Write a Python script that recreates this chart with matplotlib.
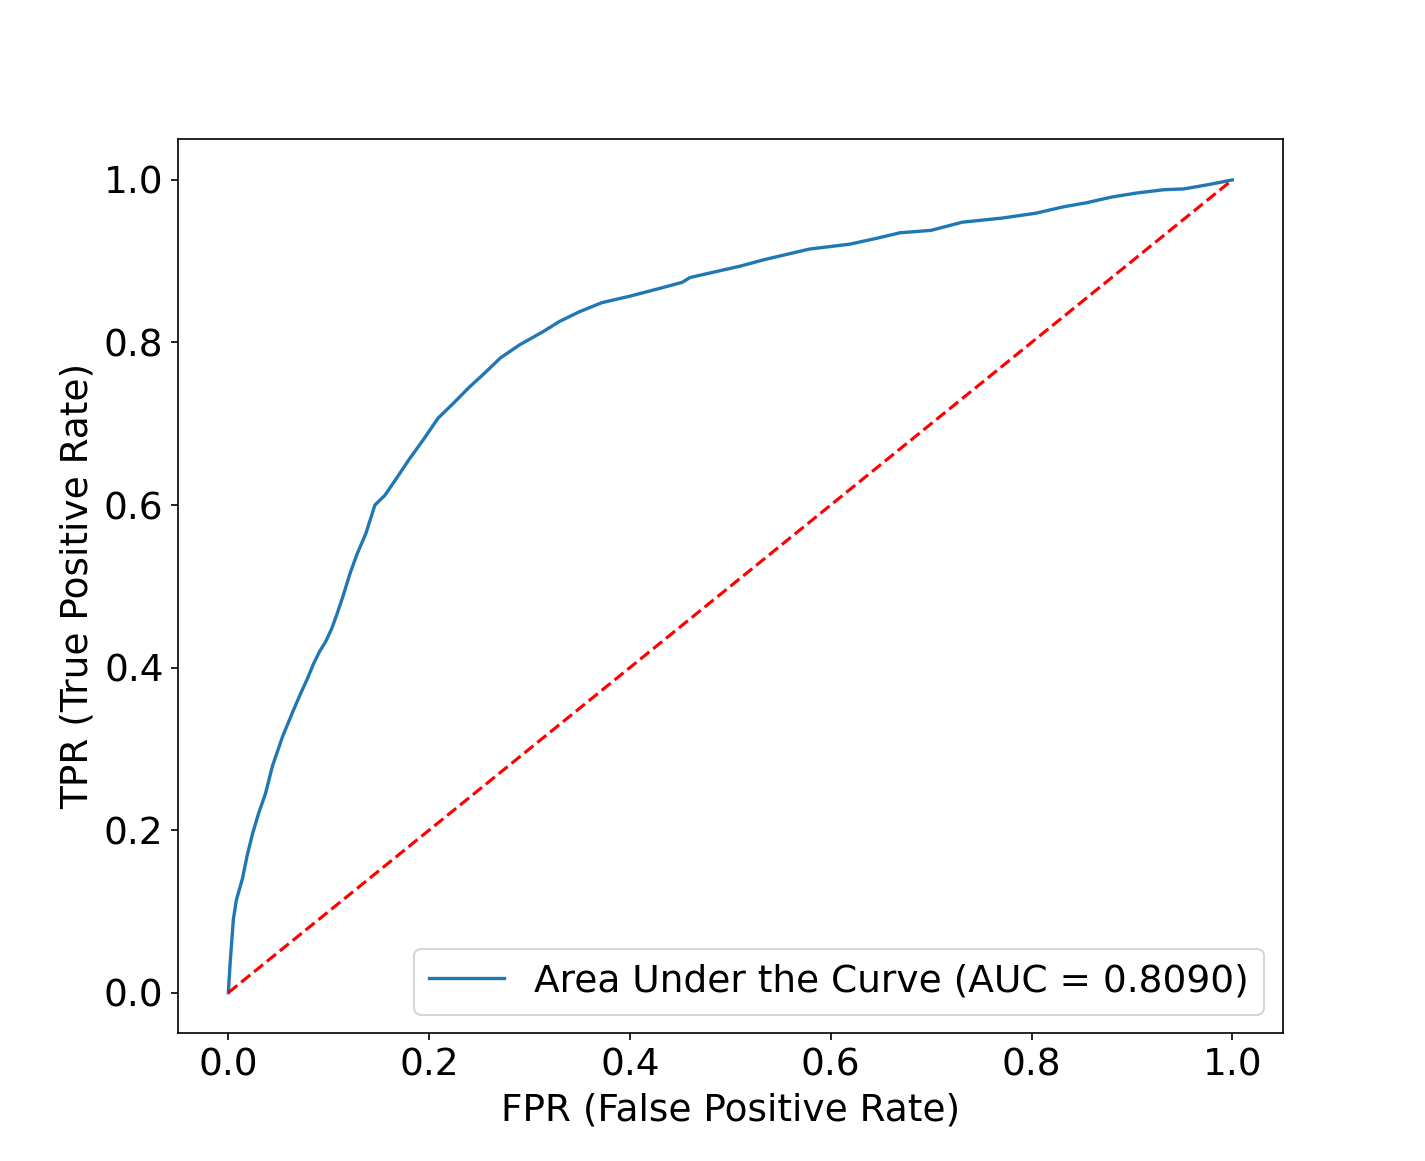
import matplotlib
matplotlib.use("Agg")
import matplotlib.pyplot as plt

fpr = [0.0, 0.002, 0.005, 0.008, 0.014, 0.019, 0.024, 0.030, 0.037, 0.044, 0.054,
       0.065, 0.072, 0.079, 0.085, 0.091, 0.097, 0.103, 0.108, 0.114, 0.121,
       0.128, 0.137, 0.146, 0.156, 0.167, 0.18, 0.194, 0.209, 0.224, 0.24, 0.255,
       0.271, 0.29, 0.313, 0.33, 0.35, 0.372, 0.40, 0.434, 0.452, 0.46, 0.485,
       0.51, 0.534, 0.579, 0.619, 0.645, 0.669, 0.70, 0.731, 0.77, 0.804, 0.832,
       0.855, 0.88, 0.905, 0.932, 0.952, 0.975, 1.0]
tpr = [0.0, 0.04, 0.09, 0.114, 0.14, 0.17, 0.195, 0.22, 0.245, 0.279, 0.315,
       0.348, 0.368, 0.387, 0.405, 0.42, 0.432, 0.448, 0.465, 0.487, 0.515,
       0.539, 0.565, 0.6, 0.612, 0.632, 0.656, 0.68, 0.707, 0.725, 0.745, 0.762,
       0.781, 0.797, 0.813, 0.826, 0.838, 0.849, 0.857, 0.868, 0.874, 0.88, 0.887,
       0.894, 0.902, 0.915, 0.921, 0.928, 0.935, 0.938, 0.948, 0.953, 0.959, 0.967,
       0.972, 0.979, 0.984, 0.988, 0.989, 0.994, 1.0]
auc = 0.8090

plt.figure(figsize=(9.5, 7.74), dpi=150)
plt.plot(fpr, tpr, color="#1f77b4", lw=1.6,
         label=f"Area Under the Curve (AUC = {auc:.4f})")
plt.plot([0, 1], [0, 1], "r--", lw=1.5)
plt.xlabel("FPR (False Positive Rate)", fontsize=18)
plt.ylabel("TPR (True Positive Rate)", fontsize=18)
plt.xticks(fontsize=18)
plt.yticks(fontsize=18)
plt.legend(loc="lower right", fontsize=18)
plt.savefig("out.png", dpi=150)
